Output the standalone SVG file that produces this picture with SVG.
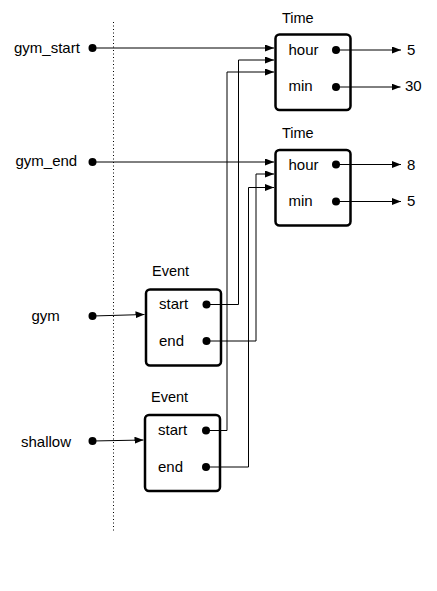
<svg xmlns="http://www.w3.org/2000/svg" width="437" height="591" viewBox="0 0 437 591">
<style>
text{font-family:"Liberation Sans",Arial,sans-serif;font-size:15px;fill:#000}
.type{font-size:14.5px}
.box{fill:#fff;stroke:#000;stroke-width:2.5}
.dot{fill:#000}
.c{fill:none;stroke:#000;stroke-width:1;marker-end:url(#ah)}
</style>
<defs>
<marker id="ah" markerUnits="userSpaceOnUse" markerWidth="9" markerHeight="7" refX="9" refY="3.5" orient="auto">
<path d="M0,0 L9,3.5 L0,7 z" fill="#000"/>
</marker>
</defs>
<rect width="437" height="591" fill="#fff"/>
<line x1="113.5" y1="22" x2="113.5" y2="533" stroke="#000" stroke-width="1" stroke-dasharray="1 2.5"/>

<g id="var-gym_start"><text x="14" y="53">gym_start</text><circle class="dot" cx="92.5" cy="48" r="4"/></g>
<g id="var-gym_end"><text x="15.5" y="166">gym_end</text><circle class="dot" cx="92.5" cy="162" r="4"/></g>
<g id="var-gym"><text x="31.5" y="320.5">gym</text><circle class="dot" cx="92.5" cy="316" r="4"/></g>
<g id="var-shallow"><text x="21" y="447">shallow</text><circle class="dot" cx="92.5" cy="441" r="4"/></g>

<g id="time1">
<text class="type" x="282" y="22.5">Time</text>
<rect class="box" x="275.5" y="34.5" width="75" height="75.5" rx="4"/>
<text x="288.5" y="54.5">hour</text><circle class="dot" cx="336" cy="50" r="4"/>
<text x="288.5" y="91">min</text><circle class="dot" cx="336" cy="87" r="4"/>
</g>
<g id="time2">
<text class="type" x="282" y="138">Time</text>
<rect class="box" x="275.5" y="150" width="75" height="75.5" rx="4"/>
<text x="288.5" y="169.5">hour</text><circle class="dot" cx="336" cy="164.5" r="4"/>
<text x="288.5" y="206">min</text><circle class="dot" cx="336" cy="201.5" r="4"/>
</g>
<g id="event1">
<text class="type" x="152" y="276">Event</text>
<rect class="box" x="146" y="289.5" width="75" height="76" rx="4"/>
<text x="159" y="309">start</text><circle class="dot" cx="206.5" cy="304.5" r="4"/>
<text x="159" y="345.5">end</text><circle class="dot" cx="206.5" cy="341" r="4"/>
</g>
<g id="event2">
<text class="type" x="151" y="401.5">Event</text>
<rect class="box" x="145" y="415" width="75" height="76" rx="4"/>
<text x="158" y="435">start</text><circle class="dot" cx="206" cy="430.5" r="4"/>
<text x="158" y="471.5">end</text><circle class="dot" cx="206" cy="467" r="4"/>
</g>
<g id="values">
<text x="407" y="54.5">5</text>
<text x="405" y="91">30</text>
<text x="407" y="169.5">8</text>
<text x="407" y="206">5</text>
</g>

<g id="connectors">
<path class="c" d="M92.5,48 H274"/>
<path class="c" d="M92.5,162 H274"/>
<path class="c" d="M92.5,316 L144.5,314.5"/>
<path class="c" d="M92.5,441 L143.5,440"/>
<path class="c" d="M206.5,304.5 H238.5 V60 H274"/>
<path class="c" d="M206.5,341 H256 V174 H274"/>
<path class="c" d="M206,430.5 H227 V72 H274"/>
<path class="c" d="M206,467 H248.5 V187.5 H274"/>
<path class="c" d="M336,50 H401"/>
<path class="c" d="M336,87 H400.5"/>
<path class="c" d="M336,164.5 H401"/>
<path class="c" d="M336,201.5 H401"/>
</g>
</svg>
